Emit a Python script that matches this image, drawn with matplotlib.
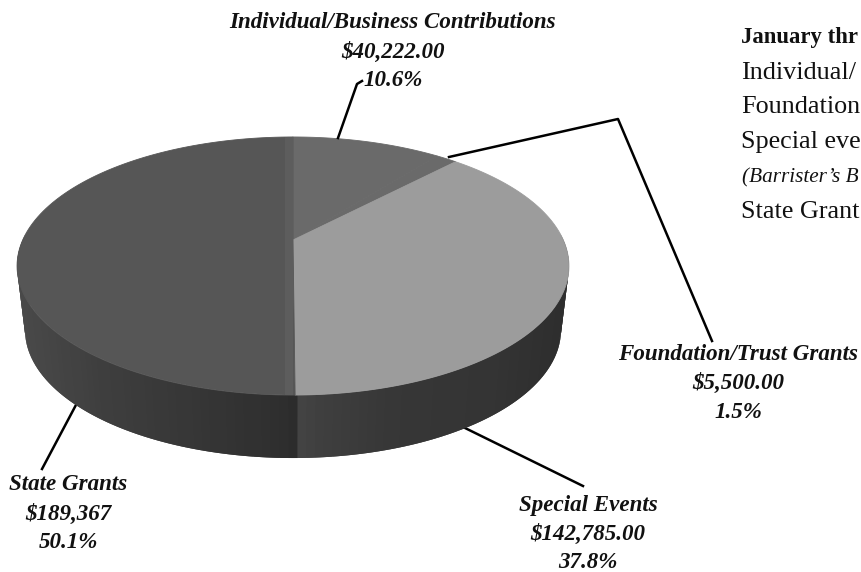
import numpy as np
import matplotlib
matplotlib.use("Agg")
import matplotlib.pyplot as plt
from matplotlib.patches import Polygon, Rectangle

categories = ["Individual/Business Contributions", "Foundation/Trust Grants", "Special Events", "State Grants"]
amounts = ["$40,222.00", "$5,500.00", "$142,785.00", "$189,367"]
shares = [10.6, 1.5, 37.8, 50.1]

side_notes = ["Individual/", "Foundation", "Special eve", "State Grant"]

top_colors = ["#6a6a6a", "#6a6a6a", "#9c9c9c", "#565656"]


# unit circle to the tilted top face, near edge drawn bigger than the far one
def project(theta, scale=1.0):
    u = np.sin(theta) * scale
    v = np.cos(theta) * scale
    w = 1 + 0.2016 * v
    return 293 + 270.3 * u / w, 240 - 123.8 * v / w


fig = plt.figure(figsize=(8.61, 5.72), dpi=100)
ax = fig.add_axes([0, 0, 1, 1])
ax.set_xlim(0, 861)
ax.set_ylim(572, 0)
ax.axis("off")

# side wall, front half only, shade follows screen position
edges = np.linspace(np.pi / 2 * 0.97, np.pi * 1.5 * 1.01, 122)
for i in range(120):
    # each piece runs under the next one so no seams show
    t = np.linspace(edges[i], edges[i + 2], 5)
    x1, y1 = project(t)
    x2 = 293 + (x1 - 293) * 0.971
    y2 = 330 + (y1 - 266) * 0.992
    px = x1[:3].mean()
    g = np.interp(px, [17, 100, 200, 280, 295, 297, 330, 400, 500, 569],
                  [0x4a, 0x3f, 0x36, 0x2f, 0x2c, 0x44, 0x3e, 0x37, 0x34, 0x2e])
    c = "#%02x%02x%02x" % (int(g), int(g), int(g))
    ax.fill(np.r_[x1, x2[::-1]], np.r_[y1, y2[::-1]], fc=c, lw=0, zorder=1)

# top face slices, clockwise from 12 o'clock
angle = 0.0
patches = []
for share, col in zip(shares, top_colors):
    sweep = share / sum(shares) * 2 * np.pi
    t = np.linspace(angle, angle + sweep, 120)
    x, y = project(t)
    cx, cy = project(np.array([0.0]), 0.0)
    p = Polygon(np.c_[np.r_[cx, x], np.r_[cy, y]], closed=True, fc=col, ec=col, lw=0.6, zorder=2)
    ax.add_patch(p)
    patches.append(p)
    angle += sweep

band = Rectangle((285, 130), 8, 270, fc="#5d5d5d", lw=0, zorder=3)
ax.add_patch(band)
band.set_clip_path(patches[3])

# leader lines
lw = 1.8
ax.plot([338, 357, 362], [138, 84, 81], color="black", lw=lw, zorder=4)
ax.plot([449, 618, 712], [157, 119, 341], color="black", lw=lw, zorder=4)
ax.plot([463, 583], [427, 486], color="black", lw=lw, zorder=0)
ax.plot([77, 42], [403, 469], color="black", lw=lw, zorder=0)

# labels
serif = ["Liberation Serif", "DejaVu Serif"]
lab = dict(family=serif, style="italic", weight="bold", fontsize=16.6, ha="center", va="center", color="#111111")
label_xy = [(393, 23), (738, 354), (588, 505), (68, 485)]
for name, amt, share, (x, y) in zip(categories, amounts, shares, label_xy):
    ax.text(x, y, name, **lab)
    ax.text(x, y + 29.5, amt, **lab)
    ax.text(x, y + 58, "%.1f%%" % share, **lab)

note = dict(family=serif, fontsize=18.8, ha="left", va="center", color="#111111")
ax.text(741, 37, "January thr", family=serif, weight="bold", fontsize=16.4, ha="left", va="center", color="#111111")
for txt, y in zip(side_notes, [73, 107, 142, 212]):
    ax.text(741, y, txt, **note)
ax.text(742, 178, "(Barrister\u2019s B", family=serif, style="italic", fontsize=15.3, ha="left", va="center", color="#111111")

fig.savefig("out.png", dpi=100)
